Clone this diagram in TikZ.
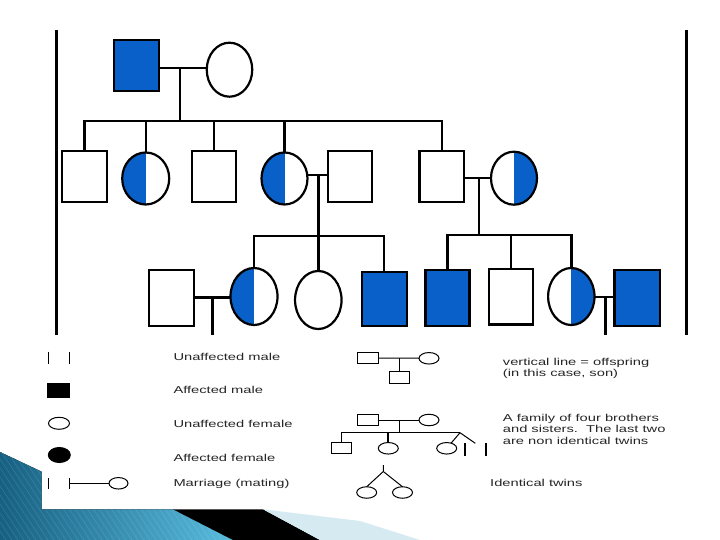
\documentclass[tikz,border=0pt]{standalone}
\usepackage{fontspec}
\setmainfont{Liberation Sans}
\usetikzlibrary{shapes.geometric}
\definecolor{pblue}{RGB}{8,96,200}
\definecolor{tealA}{RGB}{22,96,130}
\definecolor{tealB}{RGB}{88,188,222}
\definecolor{paleblue}{RGB}{214,234,242}
\newcommand\lgwide[1]{\scalebox{1.47}[1]{#1}}
\begin{document}
\begin{tikzpicture}[x=1pt,y=-1pt,
  psq/.style={draw, line width=2.2pt, rectangle, inner sep=0pt, outer sep=0pt},
  pcirc/.style={draw, line width=2.2pt, ellipse, inner sep=0pt, outer sep=0pt},
  conn/.style={line width=2.4pt, line join=miter},
  sideline/.style={line width=2.7pt},
  lefthalf/.style={path picture={\fill[pblue] (path picture bounding box.north west) rectangle (path picture bounding box.south);}},
  righthalf/.style={path picture={\fill[pblue] (path picture bounding box.north east) rectangle (path picture bounding box.south);}},
  lsq/.style={draw, line width=1pt, rectangle, inner sep=0pt, outer sep=0pt, minimum width=20.5pt, minimum height=11.8pt},
  lcirc/.style={draw, line width=1pt, ellipse, inner sep=0pt, outer sep=0pt, minimum width=20pt, minimum height=11.5pt},
  lline/.style={line width=1pt},
  lbar/.style={line width=1.2pt},
  ltext/.style={anchor=base west, inner sep=0pt, font=\fontsize{10}{12}\selectfont, text=black!85}]
\useasboundingbox (0,0) rectangle (720,540);
\fill[white] (0,0) rectangle (720,540);

% --- decoration bottom left ---
\fill[left color=tealA, right color=tealB] (0,452) -- (41.7,471.7) -- (41.7,509.3) -- (173,509.3) -- (233,540) -- (0,540) -- cycle;
\begin{scope}
  \clip (0,452) -- (41.7,471.7) -- (41.7,509.3) -- (173,509.3) -- (233,540) -- (0,540) -- cycle;
  \foreach \i in {-120,-114,...,240} \draw[white, opacity=0.12, line width=0.6pt] (\i,450) -- (\i+60,540);
\end{scope}
\fill[black] (173,509.3) -- (263,509.3) -- (320,540) -- (233,540) -- cycle;
\fill[paleblue] (263,509.3) -- (360,521) -- (420,540) -- (320,540) -- cycle;

% --- pedigree: generation I ---
\node[psq, fill=pblue, minimum width=45pt, minimum height=51pt] (I1) at (136.3,65.8) {};
\node[pcirc, minimum width=45.5pt, minimum height=54pt] (I2) at (229.5,69.7) {};
% generation II
\node[psq, minimum width=44.5pt, minimum height=50.5pt] (II1) at (84.5,176.4) {};
\node[pcirc, lefthalf, minimum width=47pt, minimum height=52pt] (II2) at (145.7,178.5) {};
\node[psq, minimum width=44.5pt, minimum height=50.5pt] (II3) at (214,176.4) {};
\node[pcirc, lefthalf, minimum width=46pt, minimum height=52pt] (II4) at (284.5,178.5) {};
\node[psq, minimum width=44pt, minimum height=50.5pt] (II5) at (349.7,176.4) {};
\node[psq, minimum width=44.5pt, minimum height=50.5pt] (II6) at (441.7,176.4) {};
\node[pcirc, righthalf, minimum width=46pt, minimum height=53pt] (II7) at (514,178.2) {};
% generation III
\node[psq, minimum width=45.2pt, minimum height=55.6pt] (IIIa) at (171.7,297.8) {};
\node[pcirc, lefthalf, minimum width=47pt, minimum height=57pt] (IIIb) at (254,296.5) {};
\node[pcirc, minimum width=46.5pt, minimum height=58pt] (IIIc) at (318.3,300) {};
\node[psq, fill=pblue, minimum width=45.2pt, minimum height=54.5pt] (IIId) at (384.2,299) {};
\node[psq, fill=pblue, minimum width=44.1pt, minimum height=55.6pt] (IIIe) at (447.5,297.8) {};
\node[psq, minimum width=43.8pt, minimum height=55.8pt] (IIIf) at (510.9,296.5) {};
\node[pcirc, righthalf, minimum width=46.4pt, minimum height=57pt] (IIIg) at (571.3,296.5) {};
\node[psq, fill=pblue, minimum width=45.3pt, minimum height=55.8pt] (IIIh) at (637.2,298) {};

\coordinate (top1) at (180,68.3);   \coordinate (sib1) at (180,121);
\coordinate (top2) at (318.3,175);  \coordinate (sib2) at (318.3,235.9);
\coordinate (top3) at (479,178.3);  \coordinate (sib3) at (479,234.8);
\coordinate (top4) at (212.6,297.6); \coordinate (end4) at (212.6,335);
\coordinate (top5) at (605.3,297);  \coordinate (end5) at (605.3,335);
\coordinate (bl1) at (56.7,30);  \coordinate (bl2) at (56.7,335);
\coordinate (br1) at (686.7,30); \coordinate (br2) at (686.7,335);

\draw[sideline] (bl1) -- (bl2);
\draw[sideline] (br1) -- (br2);

\draw[conn] (I1.east |- top1) -- (I2.west |- top1);
\draw[conn] (top1) -- (sib1);
\draw[conn] (II1.north) -- (II1.north |- sib1) -- (II6.north |- sib1) -- (II6.north);
\foreach \n in {II2,II3,II4} \draw[conn] (\n.north) -- (\n.north |- sib1);

\draw[conn] (II4.east |- top2) -- (II5.west |- top2);
\draw[conn] (top2) -- (sib2);
\draw[conn] (IIIb.north) -- (IIIb.north |- sib2) -- (IIId.north |- sib2) -- (IIId.north);
\draw[conn] (IIIc.north) -- (IIIc.north |- sib2);

\draw[conn] (II6.east |- top3) -- (II7.west |- top3);
\draw[conn] (top3) -- (sib3);
\draw[conn] (IIIe.north) -- (IIIe.north |- sib3) -- (IIIg.north |- sib3) -- (IIIg.north);
\draw[conn] (IIIf.north) -- (IIIf.north |- sib3);

\draw[conn] (IIIa.east |- top4) -- (IIIb.west |- top4);
\draw[conn] (top4) -- (end4);
\draw[conn] (IIIg.east |- top5) -- (IIIh.west |- top5);
\draw[conn] (top5) -- (end5);

% --- legend, left ---
\draw[lbar] (48.3,351.7) -- (48.3,364.3);
\draw[lbar] (69.3,351.7) -- (69.3,364.3);
\node[lsq, fill=black, draw=none, minimum width=22.7pt, minimum height=14.4pt] (lam) at (58.6,390.5) {};
\node[lcirc, minimum width=21pt, minimum height=12pt] (luf) at (59,423.3) {};
\node[lcirc, fill=black, minimum width=22pt, minimum height=15pt] (laf) at (59.3,455) {};
\draw[lbar] (48.3,478) -- (48.3,489);
\draw[lbar] (69.3,478) -- (69.3,489);
\coordinate (lmm) at (69.3,483.3);
\node[lcirc, minimum width=19pt, minimum height=11.5pt] (lmf) at (118.5,483.3) {};
\draw[lline] (lmm) -- (lmf);

\node[ltext] (tx1) at (173.3,360.7) {\lgwide{Unaffected male}};
\node[ltext] (tx2) at (173.3,393.3) {\lgwide{Affected male}};
\node[ltext] (tx3) at (173.3,427) {\lgwide{Unaffected female}};
\node[ltext] (tx4) at (173.3,461.7) {\lgwide{Affected female}};
\node[ltext] (tx5) at (173.3,486.7) {\lgwide{Marriage (mating)}};

% --- legend, right ---
\node[lsq] (o1) at (368.2,358) {};
\node[lcirc] (o2) at (429,358.3) {};
\coordinate (om) at (399.5,358.3);
\node[lsq] (o3) at (399.5,377.8) {};
\draw[lline] (o1) -- (o2);
\draw[lline] (om) -- (o3.north);

\node[lsq] (f1) at (368.2,420) {};
\node[lcirc] (f2) at (429,420) {};
\coordinate (fm) at (399.3,420);
\coordinate (fs) at (399.3,432.7);
\coordinate (ftw) at (460,432.7);
\node[lsq] (f3) at (341.5,448) {};
\node[lcirc] (f4) at (388.3,448.3) {};
\node[lcirc] (f5) at (446.7,448.3) {};
\coordinate (f6) at (475.3,443.3);
\draw[lline] (f1) -- (f2);
\draw[lline] (fm) -- (fs);
\draw[lline] (f3.north) -- (f3.north |- fs) -- (ftw);
\draw[line width=2pt] (f4.north) -- (f4.north |- fs);
\draw[lline] (ftw) -- (f5);
\draw[lline] (ftw) -- (f6);
\draw[line width=2pt] (465,443.3) -- (465,455.7);
\draw[line width=2pt] (485.7,443.3) -- (485.7,455.7);

\coordinate (it0) at (383.3,465);
\coordinate (it1) at (383.3,471.5);
\node[lcirc] (t1) at (366.7,492.5) {};
\node[lcirc] (t2) at (402.5,492.5) {};
\draw[lline] (it0) -- (it1) -- (t1.north);
\draw[lline] (it1) -- (t2.north);

\node[ltext] (r1) at (502.7,365) {\lgwide{vertical line = offspring}};
\node[ltext] (r2) at (502.7,376.7) {\lgwide{(in this case, son)}};
\node[ltext] (r3) at (502.7,421.7) {\lgwide{A family of four brothers}};
\node[ltext] (r4) at (502.7,432.7) {\lgwide{and sisters.\ \ The last two}};
\node[ltext] (r5) at (502.7,444) {\lgwide{are non identical twins}};
\node[ltext] (r6) at (490,486.7) {\lgwide{Identical twins}};
\end{tikzpicture}
\end{document}
